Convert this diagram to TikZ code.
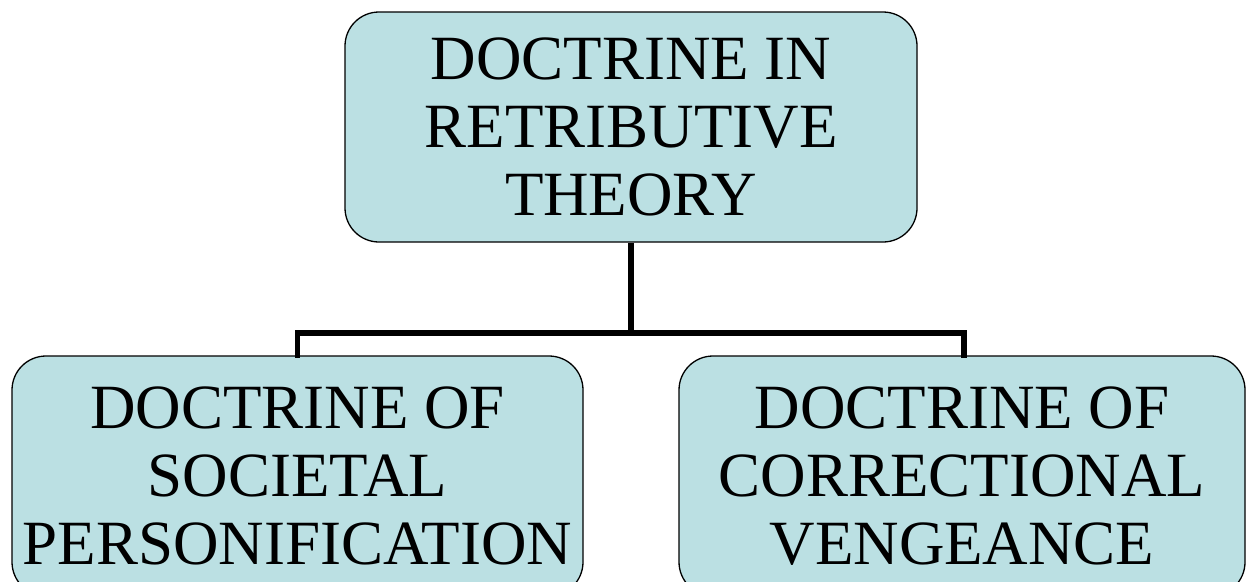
\documentclass[tikz,border=0pt]{standalone}
\usepackage{fontspec}
\setmainfont{Liberation Serif}
\definecolor{boxfill}{RGB}{187,224,227}
\tikzset{
  doctrine/.style={draw=black, line width=1.3pt, fill=boxfill, rounded corners=34pt,
    align=center, inner sep=0pt, font=\fontsize{63}{68}\selectfont},
  link/.style={draw=black, line width=5.5pt}
}
\begin{document}
\begin{tikzpicture}[x=1pt,y=-1pt]
  \useasboundingbox (0,0) rectangle (1246,581);
  \clip (0,0) rectangle (1246,581);
  % parent node
  \node[doctrine, minimum width=572pt, minimum height=230pt] (top) at (631,127)
    {DOCTRINE IN\\RETRIBUTIVE\\THEORY};
  % child nodes (extending past the lower edge)
  \node[doctrine, minimum width=571pt, minimum height=240pt] (left) at (297.5,476)
    {DOCTRINE OF\\SOCIETAL\\PERSONIFICATION};
  \node[doctrine, minimum width=566pt, minimum height=240pt] (right) at (962,476)
    {DOCTRINE OF\\CORRECTIONAL\\VENGEANCE};
  % tree connectors
  \coordinate (junction) at (631,333);
  \draw[link] (top.south) -- (junction);
  \draw[link, line cap=rect] ([yshift=0.6pt]left.north) |- (junction) -| ([xshift=2pt,yshift=0.6pt]right.north);
\end{tikzpicture}
\end{document}
